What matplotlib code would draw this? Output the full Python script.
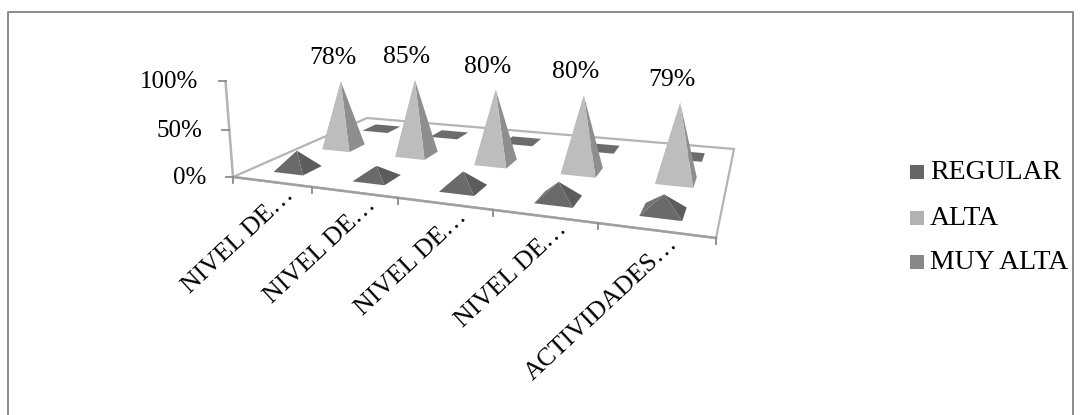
import matplotlib
matplotlib.use('Agg')
import matplotlib.pyplot as plt
from matplotlib.patches import Rectangle
import numpy as np

categories = ['NIVEL DE…', 'NIVEL DE…', 'NIVEL DE…', 'NIVEL DE…', 'ACTIVIDADES…']
series_names = ['REGULAR', 'ALTA', 'MUY ALTA']
regular = [20, 13, 17, 17, 16]
alta = [78, 85, 80, 80, 79]
muy_alta = [0, 0, 0, 0, 0]
value_ticks = [0, 50, 100]
tick_labels = ['0%', '50%', '100%']

plt.rcParams['font.family'] = ['Liberation Serif', 'DejaVu Serif']

# floor corners in pixels: front-left, front-right, back-right, back-left
floor_px = [(233, 177), (716, 238), (734, 149), (367, 118)]
floor_uv = [(0, 0), (5, 0), (5, 3), (0, 3)]


def floor_matrix():
    rows = []
    rhs = []
    for (u, v), (x, y) in zip(floor_uv, floor_px):
        rows.append([u, v, 1, 0, 0, 0, -u * x, -v * x])
        rows.append([0, 0, 0, u, v, 1, -u * y, -v * y])
        rhs += [x, y]
    h = np.linalg.solve(np.array(rows, float), np.array(rhs, float))
    return np.append(h, 1).reshape(3, 3)


H = floor_matrix()
# vertical lines converge on a point far below the chart
vanish = np.array([500.0, 3600.0, 1.0])
k = -0.0272


def project(u, v, z=0):
    p = H @ np.array([u, v, 1.0]) + (z / 100) * k * vanish
    return p[0] / p[2], p[1] / p[2]


def pyramid(ax, i, j, value, faces):
    half = 0.19
    cu, cv = i + 0.5, j + 0.5
    fl = project(cu - half, cv - half)
    fr = project(cu + half, cv - half)
    br = project(cu + half, cv + half)
    bl = project(cu - half, cv + half)
    top = project(cu, cv, value)
    if value == 0:
        ax.fill(*zip(fl, fr, br, bl), color=faces[0], lw=0, zorder=3)
        return
    ax.fill(*zip(bl, fl, top), color=faces[2], lw=0, zorder=3)
    ax.fill(*zip(fr, br, top), color=faces[1], lw=0, zorder=3)
    ax.fill(*zip(fl, fr, top), color=faces[0], lw=0, zorder=3)


fig = plt.figure(figsize=(10.82, 4.15), dpi=100)
ax = fig.add_axes([0, 0, 1, 1])
ax.set_xlim(0, 1082)
ax.set_ylim(415, 0)
ax.axis('off')

# outer chart border
ax.plot([8, 8, 1073, 1073], [415, 12, 12, 415], color='#8a8a8a', lw=1.4)

# floor
corners = [project(u, v) for u, v in floor_uv]
ax.fill(*zip(*corners), color='white', ec='#b4b4b4', lw=1.6, zorder=1)
ax.plot(*zip(corners[0], corners[1]), color='#a0a0a0', lw=1.8, zorder=2)

# value axis
ax.plot(*zip(project(0, 0, 0), project(0, 0, 100)), color='#b4b4b4', lw=1.8, zorder=2)
for t, lab in zip(value_ticks, tick_labels):
    x, y = project(0, 0, t)
    ax.plot([x - 7, x], [y, y], color='#8a8a8a', lw=1.3, zorder=2)
    ax.text(x - 27, y + 1, lab, ha='right', va='center', fontsize=18, color='black')

# category ticks and rotated labels
for i in range(len(categories) + 1):
    x, y = project(i, 0)
    ax.plot([x, x], [y, y + 6], color='#8a8a8a', lw=1.3, zorder=2)
for i, lab in enumerate(categories):
    x, y = project(i + 0.5, 0)
    ax.text(x + 12, y + 2, lab, rotation=43, rotation_mode='anchor', ha='right', va='top',
            fontsize=18.6, color='black')

# pyramids, back row first
styles = {
    'REGULAR': ('#6a6a6a', '#5c5c5c', '#747474'),
    'ALTA': ('#bdbdbd', '#8e8e8e', '#b0b0b0'),
    'MUY ALTA': ('#6c6c6c', '#6c6c6c', '#6c6c6c'),
}
rows = [regular, alta, muy_alta]
for j in [2, 1, 0]:
    for i in range(len(categories)):
        pyramid(ax, i, j, rows[j][i], styles[series_names[j]])

# data labels for the ALTA row
for i, val in enumerate(alta):
    x, y = project(i + 0.5, 1.5, val)
    ax.text(x - 8, y - 23, '%d%%' % val, ha='center', va='center', fontsize=18.5, color='black', zorder=5)

# legend
legend_colors = ['#666666', '#b2b2b2', '#888888']
for name, c, y in zip(series_names, legend_colors, [172, 218, 262]):
    ax.add_patch(Rectangle((910, y - 7), 14, 14, color=c, lw=0))
    ax.text(930, y, name, ha='left', va='center', fontsize=20, color='black')

plt.savefig('out.png', dpi=100)
